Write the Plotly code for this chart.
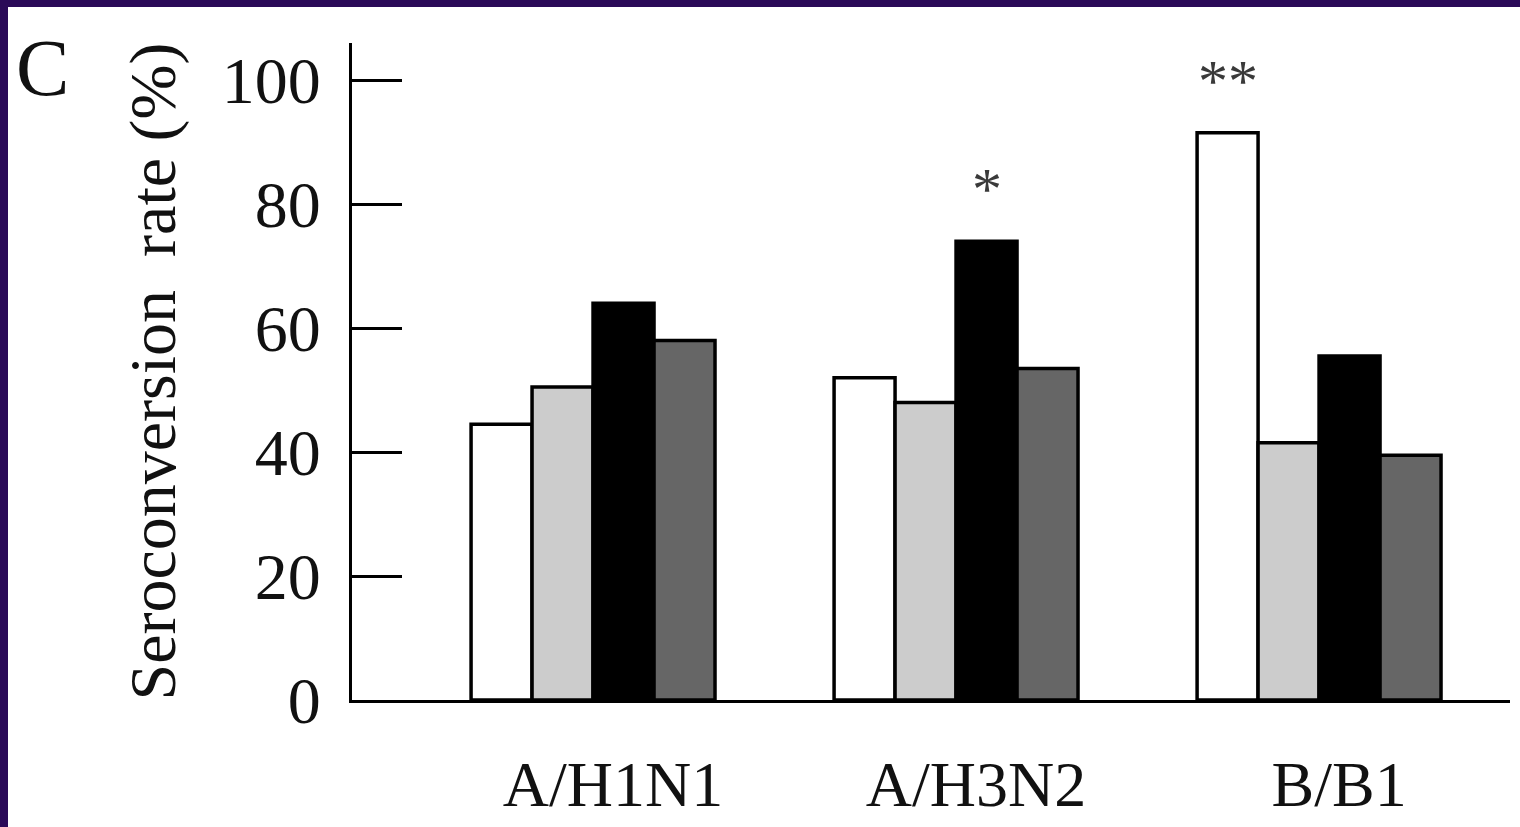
import plotly.graph_objects as go

# Seroconversion rate (%) per strain for the four groups
strains = ["A/H1N1", "A/H3N2", "B/B1"]
group_names = ["Group 1", "Group 2", "Group 3", "Group 4"]
group_1 = [44.5, 52.0, 91.5]
group_2 = [50.5, 48.0, 41.5]
group_3 = [64.0, 74.0, 55.5]
group_4 = [58.0, 53.5, 39.5]
# significance marks drawn above bars
marks_group_1 = ["", "", "**"]
marks_group_3 = ["", "*", ""]

y_ticks = [0, 20, 40, 60, 80, 100]

series = [group_1, group_2, group_3, group_4]
fills = ["#ffffff", "#cccccc", "#000000", "#666666"]
marks = [marks_group_1, None, marks_group_3, None]

W, H = 1520, 827
ML, MR, MT, MB = 352, 10, 43, 127
plot_w = W - ML - MR
plot_h = H - MT - MB

BARGAP = 0.328
SERIF = "Liberation Serif, Times New Roman, serif"

fig = go.Figure()
for name, vals, fill in zip(group_names, series, fills):
    fig.add_trace(go.Bar(
        x=strains, y=vals, name=name,
        marker=dict(color=fill, line=dict(color="#000000", width=3.5)),
        showlegend=False,
    ))

# significance asterisks centred over the matching bar of each group
n_series = len(series)
bar_w = (1 - BARGAP) / n_series
annotations = []
for si, (vals, mk) in enumerate(zip(series, marks)):
    if not mk:
        continue
    offset = (si - (n_series - 1) / 2) * bar_w
    for ci, (v, m) in enumerate(zip(vals, mk)):
        if m:
            annotations.append(dict(
                text=m, x=ci + offset, y=v, xref="x", yref="y",
                xanchor="center", yanchor="middle", yshift=52, showarrow=False,
                font=dict(family=SERIF, size=60, color="#3a3a3a"),
            ))


def px_x(px):
    return (px - ML) / plot_w


def px_y(py):
    return (H - MB - py) / plot_h


annotations.append(dict(text="C", xref="paper", yref="paper", x=px_x(42), y=px_y(68),
                        xanchor="center", yanchor="middle", showarrow=False,
                        font=dict(family=SERIF, size=80, color="#111111")))

# dark frame strips along the top and left edges
frame = "#2a0a58"
shapes = [
    dict(type="rect", xref="paper", yref="paper", x0=px_x(0), x1=px_x(W),
         y0=px_y(7), y1=px_y(0), fillcolor=frame, line=dict(width=0), layer="above"),
    dict(type="rect", xref="paper", yref="paper", x0=px_x(0), x1=px_x(8),
         y0=px_y(H), y1=px_y(0), fillcolor=frame, line=dict(width=0), layer="above"),
]

fig.update_layout(
    width=W, height=H,
    margin=dict(l=ML, r=MR, t=MT, b=MB, pad=0, autoexpand=False),
    paper_bgcolor="#ffffff", plot_bgcolor="#ffffff",
    barmode="group", bargap=BARGAP, bargroupgap=0,
    font=dict(family=SERIF, color="#111111"),
    shapes=shapes,
    annotations=annotations,
)

fig.update_xaxes(
    type="category", range=[-0.664, 2.526], automargin=False,
    showline=True, linecolor="#000000", linewidth=3,
    ticks="", showgrid=False, zeroline=False,
    tickfont=dict(family=SERIF, size=64, color="#111111"),
    ticklabelstandoff=26, ticklabelshift=20,
)

fig.update_yaxes(
    range=[0, 106], tickvals=y_ticks, ticktext=[str(v) for v in y_ticks],
    automargin=False,
    showline=True, linecolor="#000000", linewidth=3,
    ticks="inside", ticklen=50, tickwidth=3, tickcolor="#000000",
    showgrid=False, zeroline=False,
    tickfont=dict(family=SERIF, size=66, color="#111111"),
    ticklabelstandoff=15,
    title=dict(text="Seroconversion\u00a0 rate (%)",
               font=dict(family=SERIF, size=66, color="#111111"), standoff=25),
)

fig.write_html("out.html")
